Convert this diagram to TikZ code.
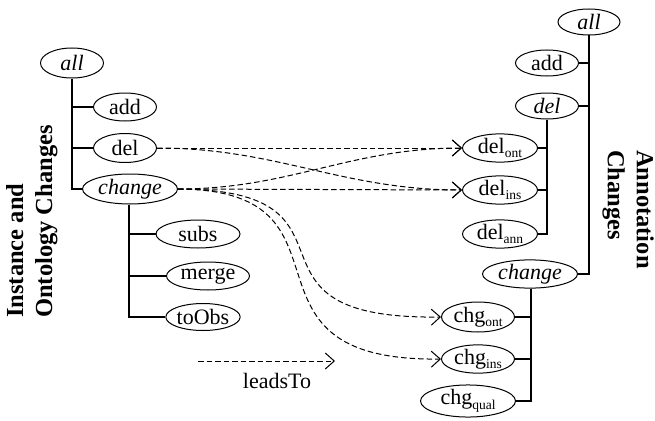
\documentclass[tikz,border=0pt]{standalone}
\usepackage{fontspec}
\setmainfont{Liberation Serif}
\usetikzlibrary{shapes.geometric,arrows.meta}
\newcommand{\lsub}[1]{\raisebox{-0.45ex}{\fontsize{13.5}{14}\selectfont #1}}
\begin{document}
\begin{tikzpicture}[x=1pt,y=-1pt,
  every node/.style={font=\fontsize{22}{24}\selectfont},
  ell/.style={draw, ellipse, line width=1pt, inner sep=0pt, minimum height=26pt},
  tree/.style={line width=1.4pt},
  tick/.style={line width=1.1pt},
  lead/.style={dashed, dash pattern=on 5.5pt off 3pt, line width=1pt, -{Straight Barb[length=9pt,width=16pt,line width=1pt]}},
  lbl/.style={font=\fontsize{24.5}{29}\selectfont\bfseries, align=left, inner sep=0pt}]
\useasboundingbox (0,0) rectangle (655,420);
% left tree
\node[ell, minimum width=63pt, minimum height=30pt] (lall) at (72,63) {\textit{all}};
\node[ell, minimum width=63pt, minimum height=28pt] (ladd) at (125,107) {add};
\node[ell, minimum width=63pt, minimum height=29pt] (ldel) at (125,148) {del};
\node[ell, minimum width=95pt, minimum height=30pt] (lchg) at (130,189) {\textit{change}};
\node[ell, minimum width=84pt, minimum height=28pt] (subs) at (198,234) {subs};
\node[ell, minimum width=83pt, minimum height=28pt] (merge) at (208,276) {merge};
\node[ell, minimum width=73pt, minimum height=27pt] (toobs) at (203,317) {toObs};
\coordinate (lv) at (72,189);
\draw[tree] (lall.south) -- (lv) -- (lchg.west);
\draw[tick] (ladd.west) -- (ladd.west -| lv);
\draw[tick] (ldel.west) -- (ldel.west -| lv);
\coordinate (cv) at (129,317);
\draw[tree] (lchg.south -| cv) -- (cv) -- (toobs.west);
\draw[tick] (subs.west) -- (subs.west -| cv);
\draw[tick] (merge.west) -- (merge.west -| cv);
% right tree
\node[ell, minimum width=62pt] (rall) at (589,22) {\textit{all}};
\node[ell, minimum width=63pt] (radd) at (547,63) {add};
\node[ell, minimum width=63pt] (rdel) at (547,106) {\textit{del}};
\node[ell, minimum width=75pt, minimum height=27pt] (dont) at (500,148) {del\lsub{ont}};
\node[ell, minimum width=75pt, minimum height=27pt] (dins) at (500,190) {del\lsub{ins}};
\node[ell, minimum width=75pt, minimum height=28pt] (dann) at (500,234) {del\lsub{ann}};
\node[ell, minimum width=95pt, minimum height=28pt] (rchg) at (530,274) {\textit{change}};
\node[ell, minimum width=73pt, minimum height=30pt] (cont) at (478,317) {chg\lsub{ont}};
\node[ell, minimum width=73pt, minimum height=28pt] (cins) at (478,359) {chg\lsub{ins}};
\node[ell, minimum width=95pt, minimum height=32pt] (cqual) at (468,401) {chg\lsub{qual}};
\coordinate (rv) at (589,274);
\draw[tree] (rall.south) -- (rv) -- (rchg.east);
\draw[tick] (radd.east) -- (radd.east -| rv);
\draw[tick] (rdel.east) -- (rdel.east -| rv);
\coordinate (dv) at (547,234);
\draw[tree] (rdel.south) -- (dv) -- (dann.east);
\draw[tick] (dont.east) -- (dont.east -| dv);
\draw[tick] (dins.east) -- (dins.east -| dv);
\coordinate (gv) at (531,401);
\draw[tree] (rchg.south -| gv) -- (gv) -- (cqual.east);
\draw[tick] (cont.east) -- (cont.east -| gv);
\draw[tick] (cins.east) -- (cins.east -| gv);
% leadsTo connectors
\draw[lead] (ldel.east) -- (dont.west);
\draw[lead] (lchg.east) -- (dins.west);
\draw[lead] (ldel.east) to[out=0,in=180] (dins.west);
\draw[lead] (lchg.east) to[out=0,in=180] (dont.west);
\draw[lead] (lchg.east) .. controls (380,190) and (220,320) .. (cont.west);
\draw[lead] (lchg.east) .. controls (370,190) and (220,362) .. (cins.west);
% legend
\coordinate (la) at (198,361);
\coordinate (lb) at (335,361);
\draw[lead] (la) -- (lb);
\node (leg) at (277,381) {leadsTo};
% side labels
\node[lbl, rotate=90, anchor=north west] (ltitle) at (6,318) {Instance and\\Ontology Changes};
\node[lbl, rotate=-90, anchor=north west] (rtitle) at (654,150) {Annotation\\Changes};
\end{tikzpicture}
\end{document}
